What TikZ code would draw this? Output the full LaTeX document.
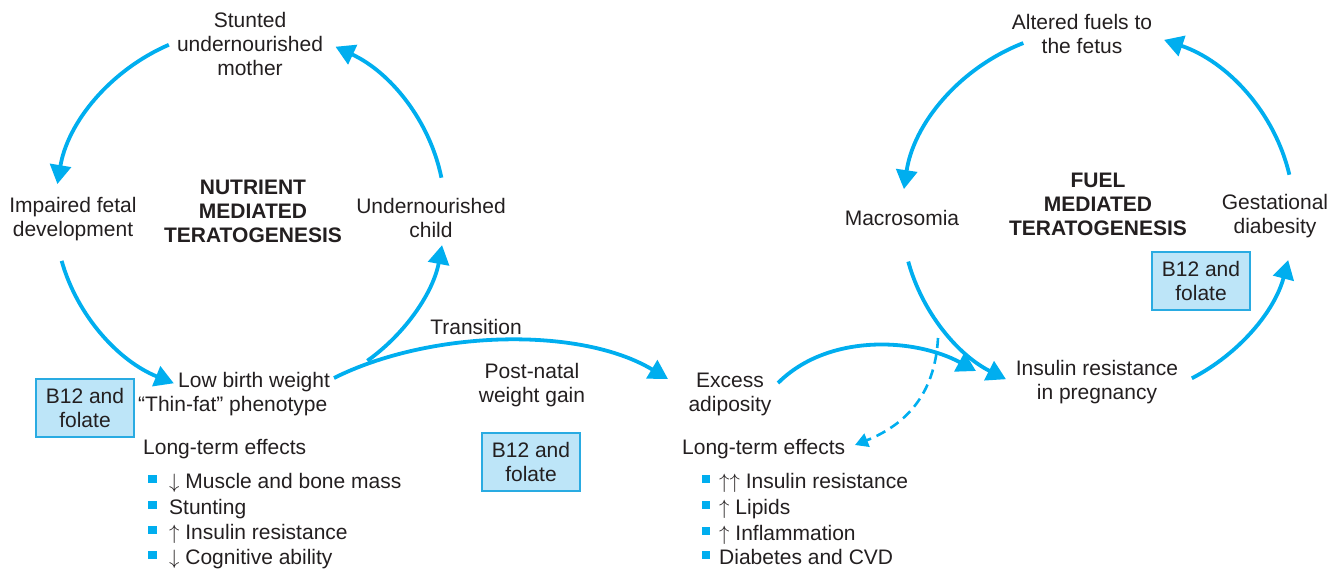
\documentclass[tikz,border=0pt]{standalone}
\usepackage{fontspec}
\setmainfont{Liberation Sans}
\usetikzlibrary{arrows.meta,calc}
\definecolor{cyanA}{HTML}{00AEEF}
\definecolor{boxfill}{HTML}{BDE5F8}
\definecolor{boxline}{HTML}{29ABE2}
\definecolor{ink}{HTML}{231F20}
\newcommand{\upar}{$\uparrow$}
\newcommand{\dnar}{$\downarrow$}
\begin{document}
\begin{tikzpicture}[x=1pt,y=1pt,
  txt/.style={font=\fontsize{21}{24}\selectfont, text=ink, inner sep=0pt, align=center},
  ttl/.style={font=\fontsize{21}{24}\selectfont\bfseries, text=ink, inner sep=0pt, align=center},
  itm/.style={font=\fontsize{21}{24}\selectfont, text=ink, inner sep=0pt, anchor=base west},
  bbox/.style={draw=boxline, line width=1.5pt, fill=boxfill, minimum width=98pt, minimum height=58pt, inner sep=0pt, align=center, text=ink, font=\fontsize{21}{24}\selectfont},
  bul/.style={fill=cyanA, draw=none, minimum size=8.5pt, inner sep=0pt},
  arr/.style={draw=cyanA, line width=3.8pt, -{Triangle[length=19pt,width=21pt]}},
  darr/.style={draw=cyanA, line width=2.6pt, dash pattern=on 10pt off 6pt, -{Triangle[length=13pt,width=14pt]}}]
\useasboundingbox (0,0) rectangle (1333,-568);

% ---- left cycle texts
\node[txt] (mother) at (250,-44) {Stunted\\undernourished\\mother};
\node[txt] (impaired) at (73,-219) {Impaired fetal\\development};
\node[ttl] (nutr) at (253,-211) {NUTRIENT\\MEDIATED\\TERATOGENESIS};
\node[txt] (child) at (431,-218) {Undernourished\\child};
\node[txt, align=left, anchor=west] (lbw) at (138,-394) {\hspace*{40pt}Low birth weight\\“Thin-fat” phenotype};
\node[bbox] (b12a) at (85,-408) {B12 and\\folate};
\node[itm] (ltl) at (143,-454.5) {Long-term effects};
\node[bul] (bl1) at (152.5,-479) {};
\node[bul] (bl2) at (152.5,-505) {};
\node[bul] (bl3) at (152.5,-530) {};
\node[bul] (bl4) at (152.5,-555) {};
\node[itm] (tl1) at (169,-488.5) {\dnar\ Muscle and bone mass};
\node[itm] (tl2) at (169,-514.5) {Stunting};
\node[itm] (tl3) at (169,-539.5) {\upar\ Insulin resistance};
\node[itm] (tl4) at (169,-564.5) {\dnar\ Cognitive ability};

% ---- middle
\node[txt] (trans) at (476,-327) {Transition};
\node[txt] (post) at (532,-385) {Post-natal\\weight gain};
\node[bbox] (b12b) at (531,-462) {B12 and\\folate};
\node[txt] (exc) at (730,-394) {Excess\\adiposity};
\node[itm] (ltr) at (682,-454.5) {Long-term effects};
\node[bul] (br1) at (706,-479) {};
\node[bul] (br2) at (706,-505) {};
\node[bul] (br3) at (706,-531) {};
\node[bul] (br4) at (706,-555) {};
\node[itm] (tr1) at (719,-488.5) {\upar\upar\ Insulin resistance};
\node[itm] (tr2) at (719,-514.5) {\upar\ Lipids};
\node[itm] (tr3) at (719,-540.5) {\upar\ Inflammation};
\node[itm] (tr4) at (719,-564.5) {Diabetes and CVD};

% ---- right cycle texts
\node[txt] (alt) at (1082,-34) {Altered fuels to\\the fetus};
\node[ttl] (fuel) at (1098,-204) {FUEL\\MEDIATED\\TERATOGENESIS};
\node[txt] (macro) at (902,-218) {Macrosomia};
\node[txt] (gest) at (1275,-216) {Gestational\\diabesity};
\node[bbox] (b12c) at (1201,-281) {B12 and\\folate};
\node[txt] (ir) at (1097,-382) {Insulin resistance\\in pregnancy};

% ---- left cycle arcs
\coordinate (C1) at (250,-213);
\coordinate (a1) at ($(C1)+({195*cos(114.6)},{185*sin(114.6)})$);
\coordinate (a2) at ($(C1)+({195*cos(195)},{185*sin(195)})$);
\coordinate (a3) at ($(C1)+({195*cos(307)},{185*sin(307)})$);
\coordinate (a4) at ($(C1)+({195*cos(11)},{185*sin(11)})$);
\draw[arr] (a1) arc[start angle=114.6, end angle=171, x radius=195, y radius=185];
\draw[arr] (a2) arc[start angle=195, end angle=247, x radius=195, y radius=185];
\draw[arr] (a3) arc[start angle=307, end angle=350, x radius=195, y radius=185];
\draw[arr] (a4) arc[start angle=11, end angle=64, x radius=195, y radius=185];

% ---- transition
\coordinate (t0) at (334,-378);
\coordinate (t1) at (668,-379);
\draw[arr] (t0) .. controls (430,-330) and (580,-326) .. (t1);

% ---- excess to insulin resistance
\coordinate (e0) at (778,-383);
\coordinate (e1) at (976,-371);
\draw[arr] (e0) .. controls (828,-333) and (915,-338) .. (e1);

% ---- right cycle arcs
\coordinate (C2) at (1098,-215);
\coordinate (r1) at ($(C2)+({196*cos(112.4)},{186*sin(112.4)})$);
\coordinate (r2) at ($(C2)+({196*cos(194.5)},{186*sin(194.5)})$);
\coordinate (r3) at ($(C2)+({196*cos(298.6)},{186*sin(298.6)})$);
\coordinate (r4) at ($(C2)+({196*cos(12.5)},{186*sin(12.5)})$);
\draw[arr] (r1) arc[start angle=112.4, end angle=172, x radius=196, y radius=186];
\draw[arr] (r2) arc[start angle=194.5, end angle=242, x radius=196, y radius=186];
\draw[arr] (r3) arc[start angle=298.6, end angle=346, x radius=196, y radius=186];
\draw[arr] (r4) arc[start angle=12.5, end angle=70.3, x radius=196, y radius=186];

% ---- dashed
\coordinate (d0) at (938,-338);
\coordinate (d1) at (855,-445);
\draw[darr] (d0) .. controls (935,-395) and (905,-425) .. (d1);
\end{tikzpicture}
\end{document}
